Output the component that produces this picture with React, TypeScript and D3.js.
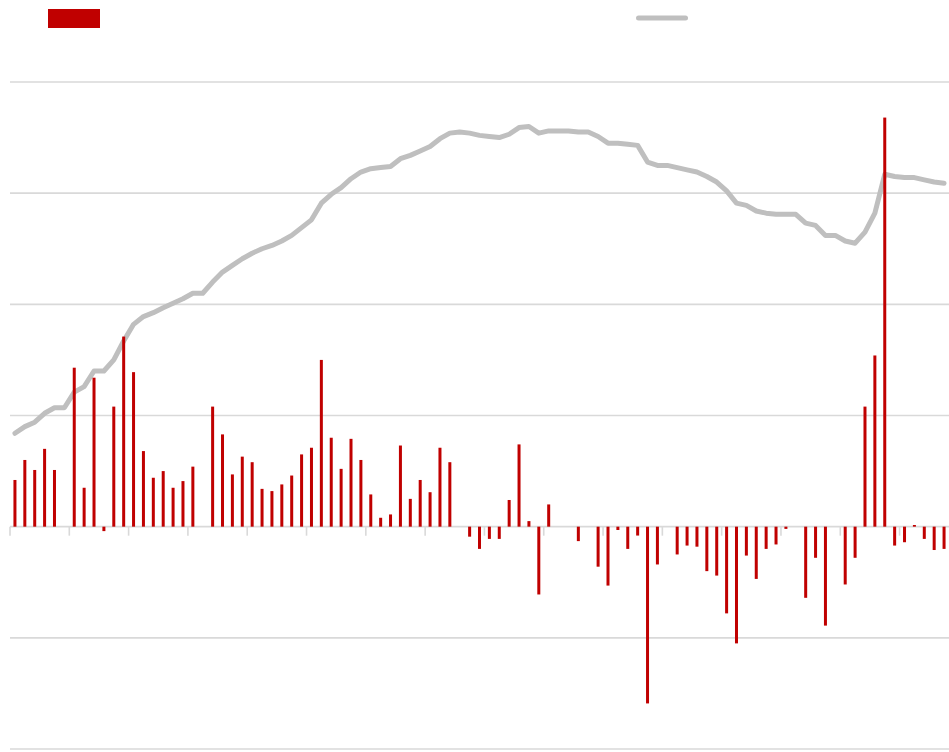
import React from "react";
import * as d3 from "d3";

const barValues: number[] = [
  0.42, 0.6, 0.51, 0.7, 0.51, 0, 1.43, 0.35, 1.34, -0.04,
  1.08, 1.71, 1.39, 0.68, 0.44, 0.5, 0.35, 0.41, 0.54, 0,
  1.08, 0.83, 0.47, 0.63, 0.58, 0.34, 0.32, 0.38, 0.46, 0.65,
  0.71, 1.5, 0.8, 0.52, 0.79, 0.6, 0.29, 0.08, 0.11, 0.73,
  0.25, 0.42, 0.31, 0.71, 0.58, 0, -0.09, -0.2, -0.11, -0.11,
  0.24, 0.74, 0.05, -0.61, 0.2, 0, 0, -0.13, 0, -0.36,
  -0.53, -0.03, -0.2, -0.08, -1.59, -0.34, 0, -0.25, -0.17, -0.18,
  -0.4, -0.44, -0.78, -1.05, -0.26, -0.47, -0.2, -0.16, -0.02, 0,
  -0.64, -0.28, -0.89, 0, -0.52, -0.28, 1.08, 1.54, 3.68, -0.17,
  -0.14, 0.015, -0.11, -0.21, -0.2,
];

const lineValues: number[] = [
  0.84, 0.9, 0.94, 1.02, 1.07, 1.07, 1.21, 1.26, 1.4, 1.4,
  1.5, 1.67, 1.82, 1.89, 1.925, 1.97, 2.01, 2.05, 2.1, 2.1,
  2.2, 2.29, 2.35, 2.41, 2.46, 2.5, 2.53, 2.57, 2.62, 2.69,
  2.76, 2.91, 2.99, 3.05, 3.13, 3.19, 3.22, 3.23, 3.24, 3.31,
  3.34, 3.38, 3.42, 3.49, 3.54, 3.55, 3.54, 3.52, 3.51, 3.5,
  3.53, 3.59, 3.6, 3.54, 3.56, 3.56, 3.56, 3.55, 3.55, 3.51,
  3.45, 3.45, 3.44, 3.43, 3.28, 3.25, 3.25, 3.23, 3.21, 3.19,
  3.15, 3.1, 3.02, 2.91, 2.89, 2.84, 2.82, 2.81, 2.81, 2.81,
  2.73, 2.71, 2.62, 2.62, 2.57, 2.55, 2.65, 2.82, 3.17, 3.15,
  3.14, 3.14, 3.12, 3.1, 3.09,
];

const yTicks: number[] = [-2, -1, 0, 1, 2, 3, 4];
const tickEvery = 6;

const W = 949;
const H = 752;
const RED = "#c00000";
const GREY = "#bfbfbf";
const GRID = "#d9d9d9";

export default function App() {
  const idx = barValues.map((_, i) => i);
  const x = d3.scaleBand<number>().domain(idx).range([10, 949]).padding(0);
  const y = d3.scaleLinear().domain([-2, 4]).range([749, 82]);
  const bw = x.bandwidth();
  const cx = (i: number) => (x(i) as number) + bw / 2;

  const line = d3
    .line<number>()
    .x((_, i) => cx(i))
    .y((d) => y(d))
    .curve(d3.curveLinear);

  const tickIdx = idx.filter((i) => i % tickEvery === 0);

  return (
    <svg
      width={W}
      height={H}
      style={{ position: "absolute", left: 0, top: 0, background: "#fff" }}
    >
      {yTicks.map((t) => (
        <line
          key={t}
          x1={10}
          x2={949}
          y1={y(t)}
          y2={y(t)}
          stroke={GRID}
          strokeWidth={1.6}
        />
      ))}
      {tickIdx.map((i) => (
        <line
          key={"t" + i}
          x1={x(i) as number}
          x2={x(i) as number}
          y1={y(0)}
          y2={y(0) + 9}
          stroke={GRID}
          strokeWidth={1.6}
        />
      ))}
      <path
        d={line(lineValues) || ""}
        fill="none"
        stroke={GREY}
        strokeWidth={5}
        strokeLinejoin="round"
        strokeLinecap="round"
      />
      {barValues.map((v, i) =>
        v === 0 ? null : (
          <rect
            key={"b" + i}
            x={cx(i) - 1.5}
            width={3}
            y={Math.min(y(v), y(0))}
            height={Math.abs(y(v) - y(0))}
            fill={RED}
          />
        )
      )}
      <rect x={48} y={9} width={52} height={19} fill={RED} />
      <line
        x1={638.5}
        x2={685.5}
        y1={18}
        y2={18}
        stroke={GREY}
        strokeWidth={5}
        strokeLinecap="round"
      />
    </svg>
  );
}
